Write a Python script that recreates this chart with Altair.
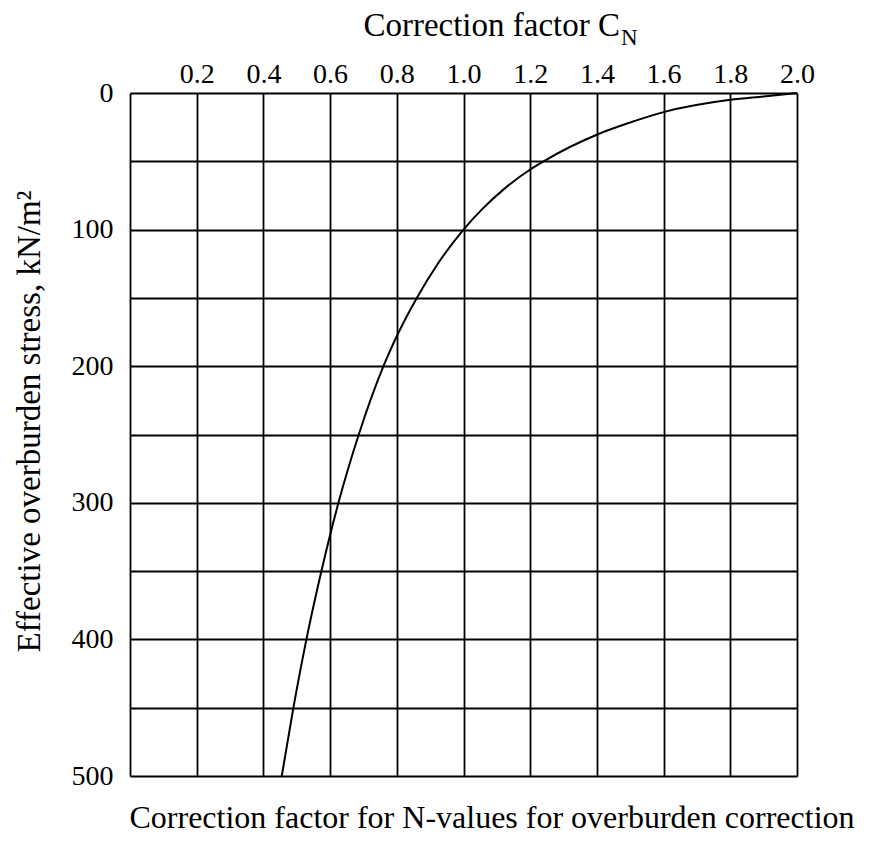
import altair as alt
import pandas as pd

# Values
stress_kn_m2 = [0, 2.5, 5, 14, 22, 30, 50, 56, 70, 85, 100, 125, 150, 175, 200,
                250, 300, 350, 400, 450, 500]
correction_cn = [2.0, 1.9, 1.8, 1.6, 1.495, 1.405, 1.24, 1.2, 1.123, 1.056, 1.0,
                 0.923, 0.86, 0.806, 0.76, 0.686, 0.625, 0.574, 0.529, 0.49, 0.455]

x_tick_values = [0.0, 0.2, 0.4, 0.6, 0.8, 1.0, 1.2, 1.4, 1.6, 1.8, 2.0]
y_tick_values = [0, 50, 100, 150, 200, 250, 300, 350, 400, 450, 500]

top_title = ["Correction factor C"]
top_title_sub = ["N"]
y_title = "Effective overburden stress, kN/m²"
bottom_title = ["Correction factor for N-values for overburden correction"]

FONT = "Liberation Serif"
W, H = 667, 683

df = pd.DataFrame({"cn": correction_cn, "stress": stress_kn_m2}).sort_values("cn")

x_enc = alt.X(
    "cn:Q",
    scale=alt.Scale(domain=[0, 2], nice=False, zero=False),
    axis=alt.Axis(
        orient="top",
        values=x_tick_values,
        labelExpr="datum.value == 0 ? '' : format(datum.value, '.1f')",
        grid=True, gridColor="black", gridWidth=1.8, gridOpacity=1,
        ticks=False, domain=False,
        labelFont=FONT, labelFontSize=28, labelColor="black",
        labelPadding=5, labelFlush=False,
        title=None,
    ),
)
y_enc = alt.Y(
    "stress:Q",
    scale=alt.Scale(domain=[0, 500], reverse=True, nice=False, zero=False),
    axis=alt.Axis(
        values=y_tick_values,
        labelExpr="datum.value % 100 == 0 ? format(datum.value, 'd') : ''",
        grid=True, gridColor="black", gridWidth=1.8, gridOpacity=1,
        ticks=False, domain=False,
        labelFont=FONT, labelFontSize=28, labelColor="black",
        labelPadding=17, labelFlush=False,
        title=y_title, titleFont=FONT, titleFontSize=33,
        titleFontWeight="normal", titleColor="black",
        titlePadding=25, titleY=328,
    ),
)

curve = alt.Chart(df).mark_line(
    color="black", strokeWidth=2, interpolate="monotone"
).encode(x=x_enc, y=y_enc)

title_main = alt.Chart(pd.DataFrame({"t": top_title})).mark_text(
    font=FONT, fontSize=33, align="right", baseline="alphabetic", color="black"
).encode(text="t:N", x=alt.value(490), y=alt.value(-57))

title_sub = alt.Chart(pd.DataFrame({"t": top_title_sub})).mark_text(
    font=FONT, fontSize=23, align="left", baseline="alphabetic", color="black"
).encode(text="t:N", x=alt.value(491), y=alt.value(-48))

title_bottom = alt.Chart(pd.DataFrame({"t": bottom_title})).mark_text(
    font=FONT, fontSize=32, align="center", baseline="alphabetic", color="black"
).encode(text="t:N", x=alt.value(362), y=alt.value(H + 52))

chart = alt.layer(curve, title_main, title_sub, title_bottom).properties(
    width=W, height=H,
    autosize=alt.AutoSizeParams(type="none"),
    padding={"left": 122, "top": 85, "right": 68, "bottom": 62},
).configure_view(
    stroke="black", strokeWidth=2.2
).configure(background="white")

chart.save("out.html", embed_options={"renderer": "svg", "actions": False})
